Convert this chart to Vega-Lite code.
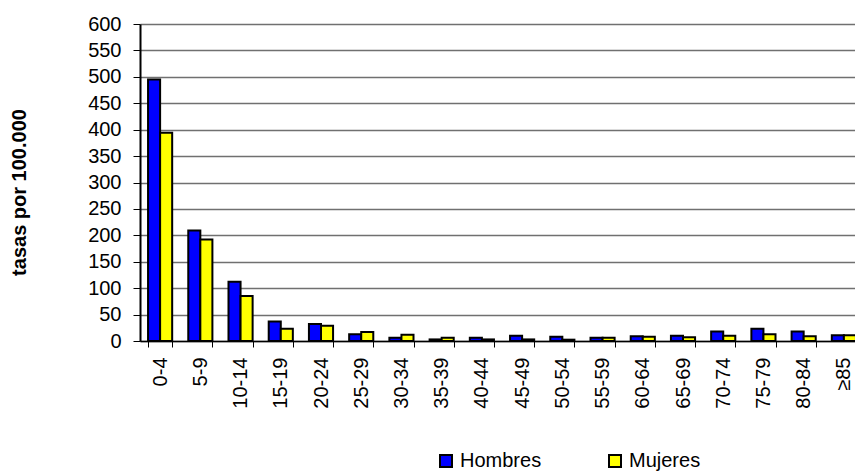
{
  "$schema": "https://vega.github.io/schema/vega-lite/v6.json",
  "width": 715,
  "height": 317,
  "autosize": "none",
  "padding": {"left": 140, "top": 24, "right": 0, "bottom": 130},
  "background": "white",
  "config": {"view": {"stroke": null}, "font": "Liberation Sans"},
  "data": {"values": [
    {"edad": "0-4", "sexo": "Hombres", "tasa": 495}, {"edad": "0-4", "sexo": "Mujeres", "tasa": 394},
    {"edad": "5-9", "sexo": "Hombres", "tasa": 209}, {"edad": "5-9", "sexo": "Mujeres", "tasa": 192},
    {"edad": "10-14", "sexo": "Hombres", "tasa": 112}, {"edad": "10-14", "sexo": "Mujeres", "tasa": 85},
    {"edad": "15-19", "sexo": "Hombres", "tasa": 37}, {"edad": "15-19", "sexo": "Mujeres", "tasa": 23},
    {"edad": "20-24", "sexo": "Hombres", "tasa": 32}, {"edad": "20-24", "sexo": "Mujeres", "tasa": 29},
    {"edad": "25-29", "sexo": "Hombres", "tasa": 13}, {"edad": "25-29", "sexo": "Mujeres", "tasa": 17},
    {"edad": "30-34", "sexo": "Hombres", "tasa": 6}, {"edad": "30-34", "sexo": "Mujeres", "tasa": 12},
    {"edad": "35-39", "sexo": "Hombres", "tasa": 3}, {"edad": "35-39", "sexo": "Mujeres", "tasa": 6},
    {"edad": "40-44", "sexo": "Hombres", "tasa": 6}, {"edad": "40-44", "sexo": "Mujeres", "tasa": 3},
    {"edad": "45-49", "sexo": "Hombres", "tasa": 10}, {"edad": "45-49", "sexo": "Mujeres", "tasa": 3},
    {"edad": "50-54", "sexo": "Hombres", "tasa": 8}, {"edad": "50-54", "sexo": "Mujeres", "tasa": 2.5},
    {"edad": "55-59", "sexo": "Hombres", "tasa": 6}, {"edad": "55-59", "sexo": "Mujeres", "tasa": 6},
    {"edad": "60-64", "sexo": "Hombres", "tasa": 9}, {"edad": "60-64", "sexo": "Mujeres", "tasa": 8},
    {"edad": "65-69", "sexo": "Hombres", "tasa": 10}, {"edad": "65-69", "sexo": "Mujeres", "tasa": 7},
    {"edad": "70-74", "sexo": "Hombres", "tasa": 18}, {"edad": "70-74", "sexo": "Mujeres", "tasa": 10},
    {"edad": "75-79", "sexo": "Hombres", "tasa": 23}, {"edad": "75-79", "sexo": "Mujeres", "tasa": 13},
    {"edad": "80-84", "sexo": "Hombres", "tasa": 18}, {"edad": "80-84", "sexo": "Mujeres", "tasa": 9},
    {"edad": "≥85", "sexo": "Hombres", "tasa": 11}, {"edad": "≥85", "sexo": "Mujeres", "tasa": 11}
  ]},
  "mark": {"type": "bar", "stroke": "black", "strokeWidth": 2, "clip": false},
  "encoding": {
    "x": {
      "field": "edad", "type": "nominal", "sort": null,
      "scale": {"range": [0, 724], "paddingInner": 0.4, "paddingOuter": 0.2},
      "axis": {
        "title": null, "labelAngle": -90, "labelFontSize": 20, "labelColor": "black",
        "labelPadding": 10, "tickBand": "extent", "tickSize": 6, "tickColor": "black",
        "tickWidth": 1, "domainColor": "black", "domainWidth": 1.5, "grid": false
      }
    },
    "xOffset": {"field": "sexo", "type": "nominal", "sort": ["Hombres", "Mujeres"]},
    "y": {
      "field": "tasa", "type": "quantitative",
      "scale": {"domain": [0, 600], "nice": false},
      "axis": {
        "values": [0, 50, 100, 150, 200, 250, 300, 350, 400, 450, 500, 550, 600],
        "title": "tasas por 100.000", "titleFontSize": 20, "titleFontWeight": "bold",
        "titleColor": "black", "titleAngle": -90, "titleX": -121, "titleY": 168,
        "titleAlign": "center", "titleBaseline": "middle",
        "labelFontSize": 20, "labelColor": "black", "labelPadding": 12,
        "tickSize": 7, "tickColor": "black", "tickWidth": 1,
        "domainColor": "black", "domainWidth": 2,
        "grid": true, "gridColor": "#707070", "gridWidth": 1.5
      }
    },
    "color": {
      "field": "sexo", "type": "nominal",
      "scale": {"domain": ["Hombres", "Mujeres"], "range": ["#0000FF", "#FFFF00"]},
      "legend": {
        "title": null, "orient": "none", "direction": "horizontal",
        "legendX": 296, "legendY": 427,
        "symbolType": "square", "symbolSize": 144, "symbolStrokeColor": "black",
        "symbolStrokeWidth": 2, "symbolOpacity": 1,
        "labelFontSize": 20, "labelColor": "black", "labelOffset": 4,
        "columnPadding": 63
      }
    }
  }
}
